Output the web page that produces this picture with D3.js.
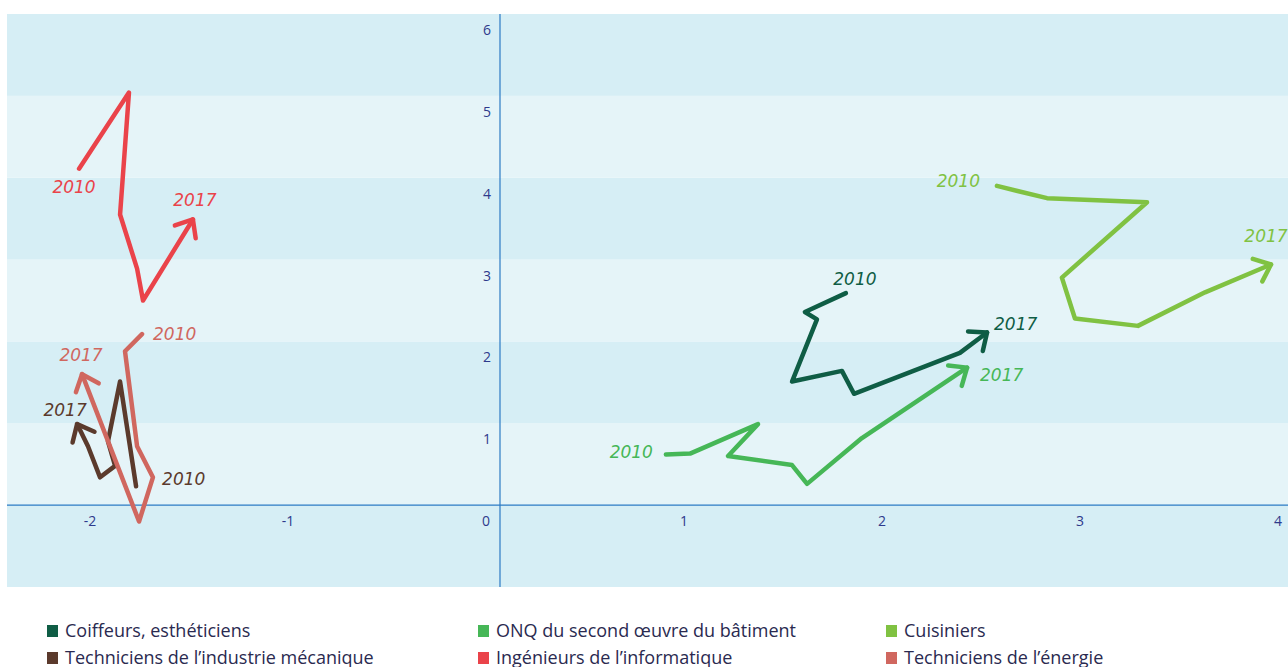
<!DOCTYPE html>
<html lang="fr">
<head>
<meta charset="utf-8">
<title>Trajectoires 2010-2017</title>
<script src="https://d3js.org/d3.v7.min.js"></script>
<style>
  body { margin: 0; background: #fff; }
  svg text { font-family: "Open Sans", "DejaVu Sans", sans-serif; }
  svg text.year { font-family: "DejaVu Sans", sans-serif; }
</style>
</head>
<body>
<script>

// series names and colours
var names = [
  "Coiffeurs, esthéticiens",
  "ONQ du second œuvre du bâtiment",
  "Cuisiniers",
  "Techniciens de l’industrie mécanique",
  "Ingénieurs de l’informatique",
  "Techniciens de l’énergie"
];
var colors = ["#0f5d45", "#46b757", "#80c242", "#5b3a2c", "#ea434a", "#d0675f"];

// trajectories, 2010 -> 2017 (x, y)
var coiffeursX = [1.747, 1.540, 1.601, 1.475, 1.727, 1.788, 2.323, 2.460];
var coiffeursY = [2.59, 2.36, 2.27, 1.51, 1.64, 1.36, 1.86, 2.11];
var onqX = [0.838, 0.960, 1.303, 1.152, 1.475, 1.551, 1.828, 2.359];
var onqY = [0.62, 0.63, 0.99, 0.60, 0.49, 0.26, 0.82, 1.68];
var cuisiniersX = [2.510, 2.763, 3.268, 2.838, 2.904, 3.222, 3.561, 3.894];
var cuisiniersY = [3.90, 3.75, 3.70, 2.78, 2.28, 2.19, 2.60, 2.94];
var mecaniqueX = [-1.838, -1.919, -1.980, -1.944, -2.020, -2.081, -2.136];
var mecaniqueY = [0.23, 1.51, 0.78, 0.48, 0.34, 0.72, 0.99];
var informatiqueX = [-2.126, -1.874, -1.919, -1.833, -1.803, -1.551];
var informatiqueY = [4.11, 5.04, 3.55, 2.89, 2.50, 3.49];
var energieX = [-1.808, -1.894, -1.833, -1.753, -1.823, -2.111];
var energieY = [2.09, 1.88, 0.72, 0.34, -0.20, 1.60];

var xValues = [coiffeursX, onqX, cuisiniersX, mecaniqueX, informatiqueX, energieX];
var yValues = [coiffeursY, onqY, cuisiniersY, mecaniqueY, informatiqueY, energieY];

var startLabel = "2010";
var endLabel = "2017";

// axis ticks
var xTicks = [-2, -1, 0, 1, 2, 3, 4];
var yTicks = [1, 2, 3, 4, 5, 6];

// label placement (pixels) : [dx, dy, anchor] for start label, then end label
var labelPos = [
  [[9, -8, "middle"], [7, -2, "start"]],
  [[-13, 4, "end"], [13, 13, "start"]],
  [[-17, 1, "end"], [-5, -22, "middle"]],
  [[26, -1, "start"], [-12, -8, "middle"]],
  [[-5, 24, "middle"], [2, -13, "middle"]],
  [[11, 6, "start"], [-1, -13, "middle"]]
];

var w = 1288, h = 667;
var plotLeft = 7, plotRight = 1288, plotTop = 14, plotBottom = 587;

var svg = d3.select("body").append("svg")
  .attr("width", w)
  .attr("height", h);

var x = d3.scaleLinear().domain([-2.49, 3.98]).range([plotLeft, plotRight]);
var y = d3.scaleLinear().domain([-1, 6]).range([plotBottom, plotTop]);

// background bands, one per unit
var bands = d3.range(-1, 6);
svg.append("g").selectAll("rect")
  .data(bands)
  .enter()
  .append("rect")
  .attr("x", plotLeft)
  .attr("width", plotRight - plotLeft)
  .attr("y", d => y(d + 1))
  .attr("height", d => y(d) - y(d + 1))
  .attr("fill", d => ((d + 1) % 2 === 0) ? "#d6eef5" : "#e5f4f8");

// axes through the origin
svg.append("line")
  .attr("x1", plotLeft).attr("x2", plotRight)
  .attr("y1", y(0)).attr("y2", y(0))
  .attr("stroke", "#2b7ac4").attr("stroke-width", 1.2);
svg.append("line")
  .attr("x1", x(0)).attr("x2", x(0))
  .attr("y1", plotTop).attr("y2", plotBottom)
  .attr("stroke", "#2b7ac4").attr("stroke-width", 1.2);

svg.append("g").selectAll("text")
  .data(xTicks)
  .enter()
  .append("text")
  .attr("x", d => Math.min(x(d) - 14, plotRight - 7))
  .attr("y", y(0) + 21)
  .attr("text-anchor", "middle")
  .attr("font-size", 14)
  .attr("fill", "#2e3a8c")
  .text(d => d);

svg.append("g").selectAll("text")
  .data(yTicks)
  .enter()
  .append("text")
  .attr("x", x(0) - 9)
  .attr("y", d => y(d) + 21)
  .attr("text-anchor", "end")
  .attr("font-size", 14)
  .attr("fill", "#2e3a8c")
  .text(d => d);

// build series
var series = names.map((n, i) => ({
  name: n,
  color: colors[i],
  points: xValues[i].map((v, j) => [v, yValues[i][j]]),
  labels: labelPos[i]
}));

var line = d3.line()
  .x(d => x(d[0]))
  .y(d => y(d[1]));

var groups = svg.append("g").selectAll("g")
  .data(series)
  .enter()
  .append("g");

groups.append("path")
  .attr("d", d => line(d.points))
  .attr("fill", "none")
  .attr("stroke", d => d.color)
  .attr("stroke-width", 4.5)
  .attr("stroke-linejoin", "round")
  .attr("stroke-linecap", "round");

// open arrow head on last point
groups.append("path")
  .attr("d", d => {
    var n = d.points.length;
    var p1 = d.points[n - 2], p2 = d.points[n - 1];
    var x1 = x(p1[0]), y1 = y(p1[1]), x2 = x(p2[0]), y2 = y(p2[1]);
    var a = Math.atan2(y1 - y2, x1 - x2);
    var len = 19, spread = 40 * Math.PI / 180;
    var ax = x2 + len * Math.cos(a + spread), ay = y2 + len * Math.sin(a + spread);
    var bx = x2 + len * Math.cos(a - spread), by = y2 + len * Math.sin(a - spread);
    return "M" + ax + "," + ay + "L" + x2 + "," + y2 + "L" + bx + "," + by;
  })
  .attr("fill", "none")
  .attr("stroke", d => d.color)
  .attr("stroke-width", 4.5)
  .attr("stroke-linejoin", "round")
  .attr("stroke-linecap", "round");

groups.append("text")
  .attr("class", "year")
  .attr("x", d => x(d.points[0][0]) + d.labels[0][0])
  .attr("y", d => y(d.points[0][1]) + d.labels[0][1])
  .attr("text-anchor", d => d.labels[0][2])
  .attr("font-size", 17)
  .attr("font-style", "italic")
  .attr("fill", d => d.color)
  .text(startLabel);

groups.append("text")
  .attr("class", "year")
  .attr("x", d => x(d.points[d.points.length - 1][0]) + d.labels[1][0])
  .attr("y", d => y(d.points[d.points.length - 1][1]) + d.labels[1][1])
  .attr("text-anchor", d => d.labels[1][2])
  .attr("font-size", 17)
  .attr("font-style", "italic")
  .attr("fill", d => d.color)
  .text(endLabel);

// legend, 3 columns x 2 rows
var colX = [47, 478, 886];
var legend = svg.append("g").selectAll("g")
  .data(series)
  .enter()
  .append("g")
  .attr("transform", (d, i) => "translate(" + colX[i % 3] + "," + (631 + Math.floor(i / 3) * 27) + ")");

legend.append("rect")
  .attr("x", 0).attr("y", -6)
  .attr("width", 11).attr("height", 12)
  .attr("fill", d => d.color);

legend.append("text")
  .attr("x", 18)
  .attr("y", 6)
  .attr("font-size", 18)
  .attr("fill", "#2a2a50")
  .text(d => d.name);

</script>
</body>
</html>
